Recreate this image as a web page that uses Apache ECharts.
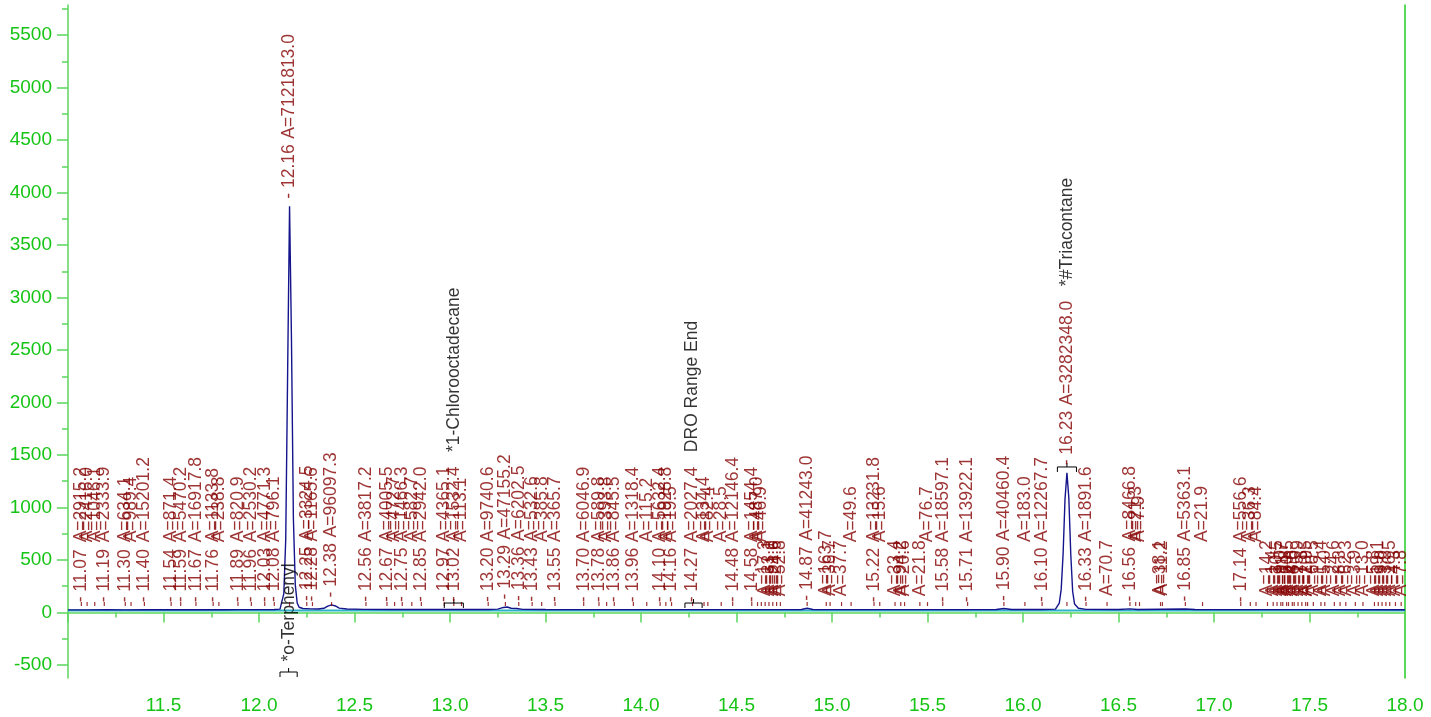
<!DOCTYPE html>
<html>
<head>
<meta charset="utf-8">
<title>Chromatogram</title>
<script src="https://cdn.jsdelivr.net/npm/echarts@6/dist/echarts.min.js"></script>
<style>
html, body { margin: 0; padding: 0; background: #fff; }
#main { width: 1431px; height: 717px; }
</style>
</head>
<body>
<div id="main"></div>
<script>
// detector trace (min, signal)
var traceTime = [11.00, 11.10, 11.20, 11.30, 11.40, 11.50, 11.60, 11.70, 11.80, 11.90, 12.00, 12.08, 12.11, 12.12,
  12.13, 12.14, 12.15, 12.16, 12.17, 12.18, 12.19, 12.20, 12.21, 12.23, 12.27, 12.31, 12.34, 12.36, 12.38, 12.40,
  12.42, 12.46, 12.55, 12.70, 12.90, 13.05, 13.20, 13.25, 13.28, 13.30, 13.32, 13.35, 13.38, 13.50, 13.70, 13.90,
  14.10, 14.30, 14.50, 14.70, 14.84, 14.87, 14.90, 15.10, 15.40, 15.70, 15.86, 15.90, 15.94, 16.10, 16.17, 16.19,
  16.20, 16.21, 16.22, 16.23, 16.24, 16.25, 16.26, 16.27, 16.29, 16.33, 16.50, 16.56, 16.60, 16.85, 16.90, 17.20,
  17.60, 18.00]
var traceSignal = [25, 25, 26, 25, 26, 26, 26, 27, 26, 27, 27, 28, 32, 45,
  180, 700, 2300, 3870, 2600, 900, 260, 90, 50, 38, 34, 33, 40, 60, 72, 62,
  42, 33, 30, 29, 28, 28, 28, 32, 48, 52, 40, 38, 30, 28, 27, 27,
  27, 27, 27, 27, 28, 40, 29, 27, 27, 27, 28, 38, 28, 28, 32, 90,
  220, 560, 1080, 1330, 1090, 560, 200, 80, 40, 30, 28, 34, 28, 33, 28, 27,
  27, 26]
// integration baseline
var baseTime = [11.0, 18.0]
var baseSignal = [20, 20]

// integrated peaks: retention time, area, label kind (f = time + area, u = area only, l = area only, low)
var peakRT = [11.07, 11.10, 11.14, 11.19, 11.30, 11.33, 11.40, 11.54, 11.59, 11.67, 11.76, 11.79, 11.89, 11.96,
  12.03, 12.08, 12.16, 12.25, 12.28, 12.38, 12.56, 12.67, 12.71, 12.75, 12.80, 12.85, 12.97, 13.02, 13.06, 13.20,
  13.29, 13.36, 13.43, 13.48, 13.55, 13.70, 13.78, 13.82, 13.86, 13.96, 14.03, 14.10, 14.13, 14.16, 14.27, 14.33,
  14.35, 14.42, 14.48, 14.58, 14.61, 14.63, 14.65, 14.67, 14.69, 14.71, 14.73, 14.87, 14.97, 14.99, 15.05, 15.10,
  15.22, 15.25, 15.33, 15.36, 15.38, 15.46, 15.50, 15.58, 15.71, 15.90, 16.01, 16.10, 16.23, 16.33, 16.44, 16.56,
  16.59, 16.61, 16.72, 16.73, 16.85, 16.94, 17.14, 17.19, 17.22, 17.28, 17.31, 17.33, 17.35, 17.36, 17.38, 17.39,
  17.41, 17.42, 17.44, 17.46, 17.48, 17.49, 17.52, 17.56, 17.58, 17.63, 17.66, 17.69, 17.74, 17.78, 17.84, 17.86,
  17.88, 17.90, 17.92, 17.95, 17.98]
var peakArea = [2915.2, 2416.0, 1046.1, 2333.9, 634.1, 989.4, 15201.2, 871.4, 5470.2, 16917.8, 1133.8, 238.8, 820.9, 2530.2,
  4771.3, 796.1, 7121813.0, 3324.5, 1165.6, 96097.3, 3817.2, 4005.5, 472.7, 1466.3, 582.7, 2942.0, 4365.1, 1532.4, 113.1, 9740.6,
  47155.2, 6202.5, 532.6, 385.8, 365.7, 6046.9, 589.8, 393.8, 845.5, 1318.4, 115.2, 5632.4, 1928.8, 19.5, 2027.4, 134.4,
  82.4, 28.5, 12146.4, 1454.4, 487.0, 46.9, 17.3, 33.1, 51.0, 24.6, 52.8, 41243.0, 163.7, 36.7, 37.7, 49.6,
  13231.8, 15.6, 33.4, 94.2, 20.6, 21.8, 76.7, 18597.1, 13922.1, 40460.4, 183.0, 12267.7, 3282348.0, 1891.6, 70.7, 8466.8,
  21.3, 7.9, 38.1, 11.2, 5363.1, 21.9, 556.6, 36.3, 84.4, 14.2, 1.4, 30.5, 9.0, 11.7, 6.8, 20.5,
  4.6, 8.0, 15.9, 7.3, 10.5, 2.9, 60.5, 12.4, 5.0, 24.6, 8.3, 62.3, 3.9, 13.0, 5.8, 19.1,
  9.0, 3.8, 16.5, 4.3, 7.8]
var peakKind = ['f', 'u', 'u', 'f', 'f', 'u', 'f', 'f', 'f', 'f', 'f', 'u', 'f', 'f',
  'f', 'f', 'f', 'f', 'f', 'f', 'f', 'f', 'u', 'f', 'u', 'f', 'f', 'f', 'u', 'f',
  'f', 'f', 'f', 'u', 'f', 'f', 'f', 'u', 'f', 'f', 'u', 'f', 'u', 'f', 'f', 'u',
  'u', 'u', 'f', 'f', 'u', 'u', 'l', 'l', 'l', 'l', 'l', 'f', 'l', 'l', 'l', 'u',
  'f', 'u', 'l', 'l', 'l', 'l', 'u', 'f', 'f', 'f', 'u', 'f', 'f', 'f', 'l', 'f',
  'u', 'u', 'l', 'l', 'f', 'u', 'f', 'u', 'u', 'l', 'l', 'l', 'l', 'l', 'l', 'l',
  'l', 'l', 'l', 'l', 'l', 'l', 'l', 'l', 'l', 'l', 'l', 'l', 'l', 'l', 'l', 'l',
  'l', 'l', 'l', 'l', 'l']

// named compounds and their expected windows
var compoundRT = [12.16, 13.02, 14.27, 16.23]
var compoundName = ['*o-Terphenyl', '*1-Chlorooctadecane', 'DRO Range End', '*#Triacontane']
var windowFrom = [12.11, 12.97, 14.23, 16.18]
var windowTo = [12.20, 13.07, 14.32, 16.28]
var windowLevel = [-567, 90, 90, 1386]
var nameBelow = [true, false, false, false]

var yMajor = [-500, 0, 500, 1000, 1500, 2000, 2500, 3000, 3500, 4000, 4500, 5000, 5500]
var yMinor = [-250, 250, 750, 1250, 1750, 2250, 2750, 3250, 3750, 4250, 4750, 5250, 5750]

var green = '#16c416'
var axisGreen = '#5cd65c'
var red = '#850000'
var font = '"Liberation Sans", Arial, Helvetica, sans-serif'

function peakTop(rt) {
  var h = 0, best = 0, bd = 99
  for (var i = 0; i < traceTime.length; i++) {
    var d = Math.abs(traceTime[i] - rt)
    if (d <= 0.012 && traceSignal[i] > h) h = traceSignal[i]
    if (d < bd) { bd = d; best = traceSignal[i] }
  }
  return h || best
}

function peakLabel(i) {
  var a = '{a|A=' + peakArea[i].toFixed(1) + '}'
  var s
  if (peakKind[i] === 'f') s = '{rt|- ' + peakRT[i].toFixed(2) + '}' + a
  else if (peakKind[i] === 'u') s = '{rt| }' + a
  else s = '{sp| }' + a
  var k = compoundRT.indexOf(peakRT[i])
  if (k >= 0 && !nameBelow[k]) s += '{n|   ' + compoundName[k] + '}'
  return s
}

var labelData = peakRT.map(function (t, i) {
  return { value: [t, peakTop(t)], label: { formatter: peakLabel(i) } }
})

var below = []
compoundRT.forEach(function (t, k) {
  if (nameBelow[k]) below.push({ value: [t, windowLevel[k]], label: { formatter: compoundName[k] } })
})

var chart = echarts.init(document.getElementById('main'))
var option = {
  animation: false,
  backgroundColor: '#fff',
  grid: { left: 68, right: 26, top: 5, bottom: 39 },
  xAxis: {
    type: 'value', min: 11, max: 18, interval: 0.5,
    axisLine: { show: true, lineStyle: { color: axisGreen, width: 1.5 } },
    axisTick: { show: true, length: 10, lineStyle: { color: axisGreen, width: 1.5 } },
    minorTick: { show: true, splitNumber: 2, length: 5, lineStyle: { color: axisGreen, width: 1.5 } },
    axisLabel: {
      color: green, fontSize: 19, fontFamily: font, margin: 18, showMinLabel: false,
      formatter: function (v) { return v.toFixed(1) }
    },
    splitLine: { show: false }
  },
  yAxis: [{
    type: 'value', min: -624, max: 5786, position: 'left',
    axisLine: { show: true, lineStyle: { color: axisGreen, width: 1.5 } },
    axisTick: { show: true, length: 11, customValues: yMajor, lineStyle: { color: axisGreen, width: 1.5 } },
    axisLabel: {
      customValues: yMajor, color: green, fontSize: 19, fontFamily: font, margin: 16,
      formatter: function (v) { return String(v) }
    },
    splitLine: { show: false }
  }, {
    type: 'value', min: -624, max: 5786, position: 'left',
    axisLine: { show: false },
    axisTick: { show: true, length: 6, customValues: yMinor, lineStyle: { color: axisGreen, width: 1.5 } },
    axisLabel: { show: false },
    splitLine: { show: false }
  }, {
    type: 'value', min: -624, max: 5786, position: 'right',
    axisLine: { show: true, lineStyle: { color: '#22cc22', width: 1.5 } },
    axisTick: { show: false },
    axisLabel: { show: false },
    splitLine: { show: false }
  }],
  series: [{
    type: 'line',
    data: baseTime.map(function (t, i) { return [t, baseSignal[i]] }),
    symbol: 'none',
    lineStyle: { color: '#2fb3c9', width: 2 },
    z: 2
  }, {
    type: 'line',
    data: traceTime.map(function (t, i) { return [t, traceSignal[i]] }),
    symbol: 'none',
    lineStyle: { color: '#14148c', width: 1.4 },
    z: 3
  }, {
    // small integration markers above the baseline
    type: 'scatter',
    data: peakRT.map(function (t) { return [t, 80] }),
    symbol: 'rect',
    symbolSize: [1.2, 4],
    itemStyle: { color: red },
    silent: true,
    z: 4
  }, {
    type: 'custom',
    data: windowFrom.map(function (f, i) { return [f, windowTo[i], windowLevel[i]] }),
    encode: { x: [0, 1], y: 2 },
    renderItem: function (params, api) {
      var a = api.coord([api.value(0), api.value(2)])
      var b = api.coord([api.value(1), api.value(2)])
      var m = (a[0] + b[0]) / 2
      return {
        type: 'group',
        children: [{
          type: 'polyline',
          shape: { points: [[a[0], a[1] + 5], [a[0], a[1]], [b[0], b[1]], [b[0], b[1] + 5]] },
          style: { stroke: '#000', fill: null, lineWidth: 1 }
        }, {
          type: 'line',
          shape: { x1: m, y1: a[1], x2: m, y2: a[1] - 4 },
          style: { stroke: '#000', lineWidth: 1 }
        }]
      }
    },
    z: 5
  }, {
    type: 'scatter',
    data: labelData,
    symbolSize: 1,
    itemStyle: { color: 'rgba(0,0,0,0)' },
    silent: true,
    label: {
      show: true, position: 'top', distance: 7, rotate: 90,
      align: 'left', verticalAlign: 'middle',
      fontSize: 17.5, fontFamily: font, color: red,
      rich: {
        rt: { width: 60, fontSize: 17.5, fontFamily: font, color: red },
        sp: { width: 6, fontSize: 17.5, fontFamily: font },
        a: { fontSize: 17.5, fontFamily: font, color: red },
        n: { fontSize: 17.5, fontFamily: font, color: '#000' }
      }
    },
    z: 6
  }, {
    type: 'scatter',
    data: below,
    symbolSize: 1,
    itemStyle: { color: 'rgba(0,0,0,0)' },
    silent: true,
    label: {
      show: true, position: 'top', distance: 10, rotate: 90,
      align: 'left', verticalAlign: 'middle',
      fontSize: 17.5, fontFamily: font, color: '#000'
    },
    z: 6
  }]
}
chart.setOption(option)
</script>
</body>
</html>
